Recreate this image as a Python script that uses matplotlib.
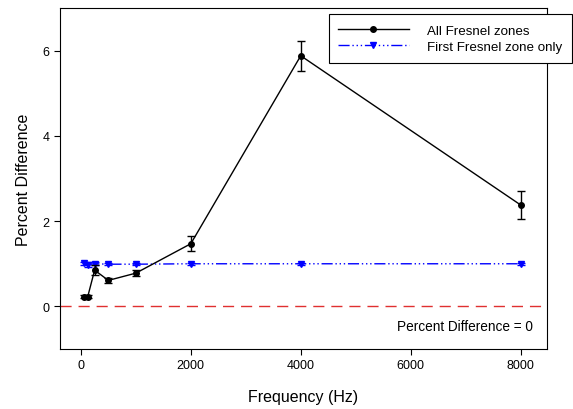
import matplotlib
matplotlib.use("Agg")
import matplotlib.pyplot as plt
from matplotlib.lines import Line2D

plt.rcParams['font.family'] = ['Liberation Sans', 'DejaVu Sans']

freqs = [63, 125, 250, 500, 1000, 2000, 4000, 8000]
all_zones = [0.23, 0.23, 0.85, 0.61, 0.78, 1.47, 5.88, 2.38]
all_err = [0.04, 0.04, 0.12, 0.05, 0.07, 0.18, 0.35, 0.33]
first_zone = [1.01, 0.98, 1.0, 0.99, 0.99, 1.0, 1.0, 1.0]
first_err = [0.04, 0.06, 0.04, 0.02, 0.02, 0.02, 0.02, 0.02]

blue_ls = (0, (8, 2, 1, 2, 1, 2, 1, 2))

fig = plt.figure(figsize=(5.73, 4.10), dpi=100)
ax = fig.add_axes([0.1047, 0.1463, 0.8499, 0.8317])

ax.axhline(0, color='#e03030', linestyle=(0, (8, 5)), linewidth=1.0, zorder=1)

ax.errorbar(freqs, all_zones, yerr=all_err, color='black', marker='o', markersize=4,
            linewidth=1.0, capsize=3, elinewidth=1.0, zorder=3)
ax.errorbar(freqs, first_zone, yerr=first_err, color='blue', marker='v', markersize=4,
            linewidth=1.0, capsize=3, elinewidth=1.0, linestyle=blue_ls, zorder=2)

ax.set_xlim(-380, 8480)
ax.set_ylim(-1, 7)
ax.set_xticks([0, 2000, 4000, 6000, 8000])
ax.set_yticks([0, 2, 4, 6])
ax.tick_params(direction='out', length=4, labelsize=9, top=False, right=False)
ax.set_xlabel('Frequency (Hz)', fontsize=11.5, labelpad=13)
ax.set_ylabel('Percent Difference', fontsize=11.5, labelpad=8)

ax.text(0.971, 0.067, 'Percent Difference = 0', transform=ax.transAxes,
        ha='right', va='center', fontsize=9.8)

handles = [
    Line2D([], [], color='black', marker='o', markersize=4, linewidth=1.0),
    Line2D([], [], color='blue', marker='v', markersize=4, linewidth=1.0, linestyle=blue_ls),
]
labels = ['All Fresnel zones', 'First Fresnel zone only']
leg = fig.legend(handles, labels, loc='upper right', bbox_to_anchor=(0.998, 0.964),
                 fontsize=9.6, frameon=True, fancybox=False, edgecolor='black',
                 framealpha=1, handlelength=5.3, handletextpad=1.4, borderpad=0.7,
                 handleheight=1.15, labelspacing=0.15, borderaxespad=0)
leg.get_frame().set_linewidth(0.8)

fig.savefig('out.png', dpi=100)
